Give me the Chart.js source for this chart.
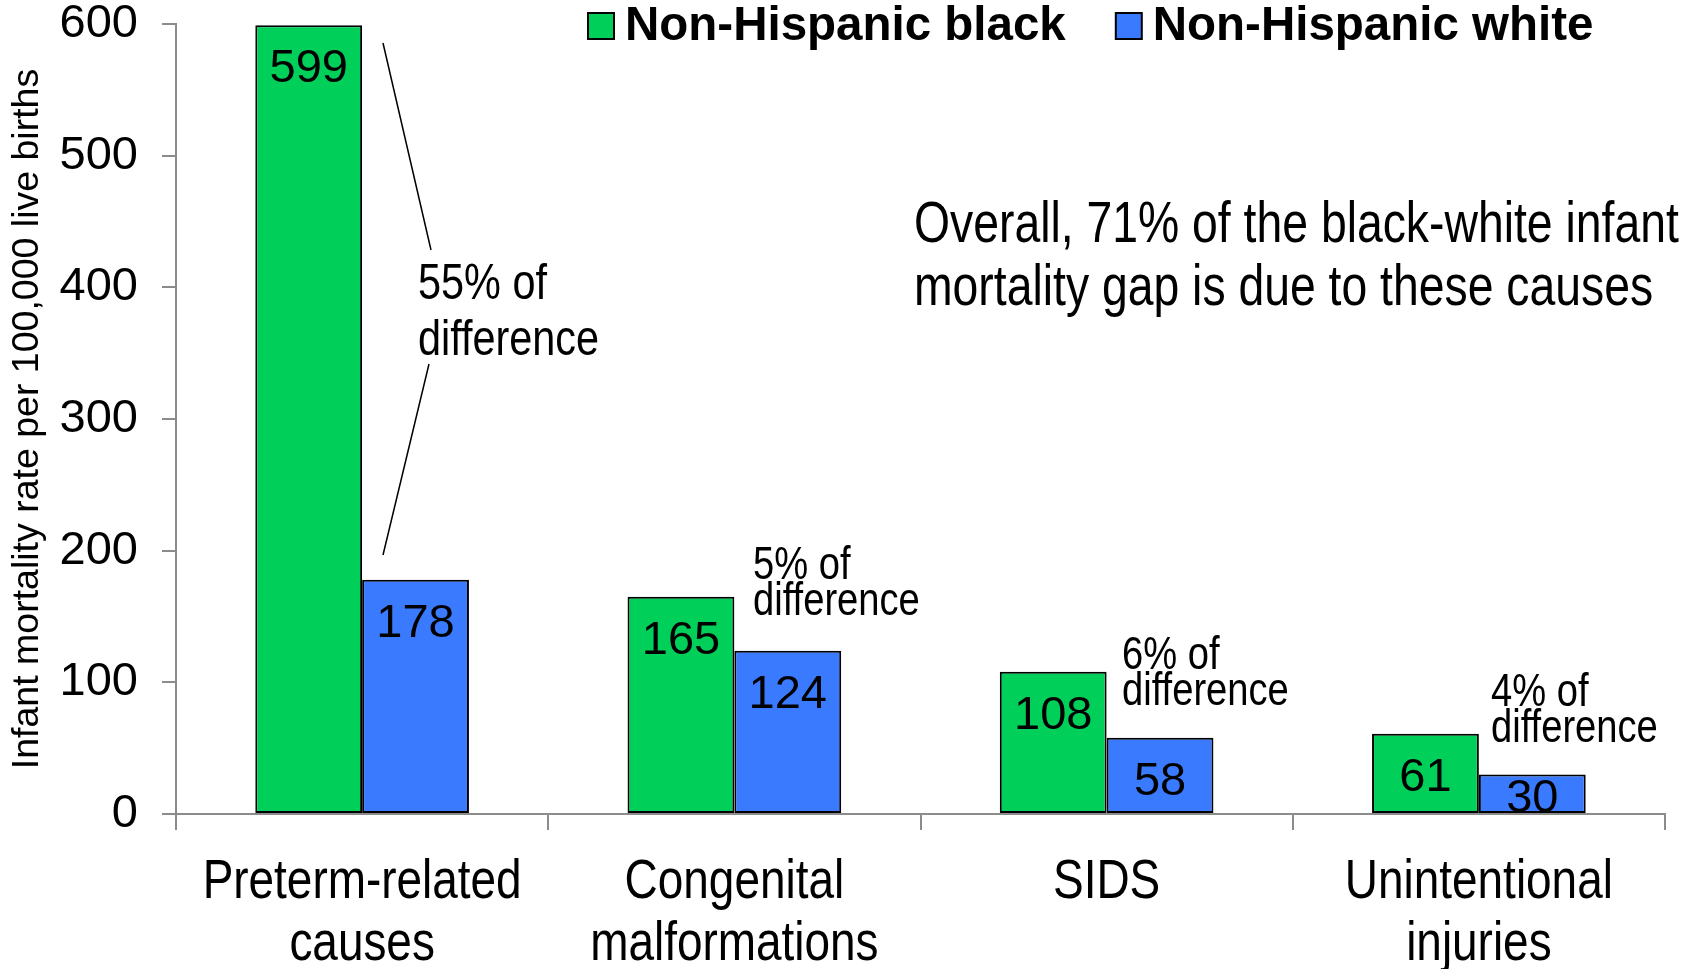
<!DOCTYPE html>
<html>
<head>
<meta charset="utf-8">
<title>Infant mortality by cause</title>
<script src="https://cdn.jsdelivr.net/npm/chart.js@4.4.1/dist/chart.umd.min.js"></script>
<style>
  html, body { margin: 0; padding: 0; background: #fff; }
  #wrap { width: 1690px; height: 969px; }
</style>
</head>
<body>
<div id="wrap"><canvas id="chart" width="1690" height="969"></canvas></div>
<script>
// data
const categories = [
  ['Preterm-related', 'causes'],
  ['Congenital', 'malformations'],
  ['SIDS'],
  ['Unintentional', 'injuries']
];
const blackRates = [599, 165, 108, 61];
const whiteRates = [178, 124, 58, 30];
const yTicks = [0, 100, 200, 300, 400, 500, 600];
const gapShares = ['55%', '5%', '6%', '4%'];

const GREEN = '#00D05A';
const BLUE = '#3A7AFE';
const AXIS = '#8c8c8c';
const SANS = '"Liberation Sans", Arial, sans-serif';
const SQUEEZE = 0.82; // no narrow face installed, so squeeze Liberation Sans

function narrowText(ctx, text, x, y, size) {
  ctx.save();
  ctx.font = size + 'px ' + SANS;
  ctx.translate(x, y);
  ctx.scale(SQUEEZE, 1);
  ctx.fillText(text, 0, 0);
  ctx.restore();
}

const extrasPlugin = {
  id: 'extras',
  afterDatasetsDraw(chart) {
    const ctx = chart.ctx;
    const xs = chart.scales.x;
    ctx.save();
    ctx.fillStyle = '#000';
    ctx.textBaseline = 'middle';

    // category labels under the axis
    ctx.textAlign = 'center';
    const lineH = 61.6;
    const firstY = xs.top + 16 + 22 + lineH / 2;
    categories.forEach((lines, i) => {
      const cx = xs.getPixelForTick(i);
      lines.forEach((t, j) => narrowText(ctx, t, cx, firstY + j * lineH, 56));
    });

    // value labels inside the bars (short bars push the label up a bit)
    ctx.font = '47px ' + SANS;
    chart.data.datasets.forEach((ds, di) => {
      chart.getDatasetMeta(di).data.forEach((bar, i) => {
        const y = Math.min(bar.y + 44, bar.base - 14);
        ctx.fillText(String(ds.data[i]), bar.x, y);
      });
    });

    // legend
    ctx.font = 'bold 47.5px ' + SANS;
    ctx.textAlign = 'left';
    let lx = 588;
    chart.data.datasets.forEach(ds => {
      ctx.fillStyle = ds.backgroundColor;
      ctx.fillRect(lx, 13, 26, 26);
      ctx.lineWidth = 2;
      ctx.strokeStyle = '#000';
      ctx.strokeRect(lx, 13, 26, 26);
      ctx.fillStyle = '#000';
      ctx.fillText(ds.label, lx + 37, 27);
      lx += 37 + ctx.measureText(ds.label).width + 50;
    });

    // notes
    narrowText(ctx, 'Overall, 71% of the black-white infant', 914, 226, 56.5);
    narrowText(ctx, 'mortality gap is due to these causes', 914, 289, 56.5);

    narrowText(ctx, gapShares[0] + ' of', 418, 285, 50.5);
    narrowText(ctx, 'difference', 418, 341, 50.5);

    const small = [[753, 566], [1122, 656], [1491, 693]];
    small.forEach((p, k) => {
      narrowText(ctx, gapShares[k + 1] + ' of', p[0], p[1], 46.5);
      narrowText(ctx, 'difference', p[0], p[1] + 36, 46.5);
    });

    // leader lines for the 55% note
    ctx.strokeStyle = '#000';
    ctx.lineWidth = 1.5;
    ctx.beginPath();
    ctx.moveTo(383, 43);
    ctx.lineTo(431, 250);
    ctx.moveTo(429, 364);
    ctx.lineTo(383, 555);
    ctx.stroke();

    ctx.restore();
  }
};

new Chart(document.getElementById('chart'), {
  type: 'bar',
  data: {
    labels: categories,
    datasets: [
      {
        label: 'Non-Hispanic black',
        data: blackRates,
        backgroundColor: GREEN,
        borderColor: '#000',
        borderWidth: 2,
        borderSkipped: false
      },
      {
        label: 'Non-Hispanic white',
        data: whiteRates,
        backgroundColor: BLUE,
        borderColor: '#000',
        borderWidth: 2,
        borderSkipped: false
      }
    ]
  },
  options: {
    responsive: false,
    devicePixelRatio: 1,
    animation: false,
    layout: { padding: { left: 0, top: 24, right: 25, bottom: 0 } },
    datasets: { bar: { categoryPercentage: 0.574, barPercentage: 1 } },
    plugins: {
      legend: { display: false },
      tooltip: { enabled: false }
    },
    scales: {
      x: {
        grid: { drawOnChartArea: false, color: AXIS, lineWidth: 2, tickLength: 16 },
        border: { color: AXIS, width: 2 },
        ticks: { display: false },
        afterFit(scale) {
          scale.height = 155;
          scale.paddingLeft = 0;
          scale.paddingRight = 0;
        }
      },
      y: {
        min: 0,
        max: 600,
        afterBuildTicks(scale) { scale.ticks = yTicks.map(v => ({ value: v })); },
        grid: { drawOnChartArea: false, color: AXIS, lineWidth: 2, tickLength: 14 },
        border: { color: AXIS, width: 2 },
        ticks: {
          color: '#000',
          padding: 24,
          font: { family: SANS, size: 47, lineHeight: 1.0 }
        },
        title: {
          display: true,
          text: 'Infant mortality rate per 100,000 live births',
          color: '#000',
          padding: { top: 5, bottom: 0 },
          font: { family: SANS, size: 37.5, lineHeight: 1.2 }
        },
        afterFit(scale) {
          scale.width = 176;
          scale.paddingTop = 0;
          scale.paddingBottom = 0;
        }
      }
    }
  },
  plugins: [extrasPlugin]
});
</script>
</body>
</html>
